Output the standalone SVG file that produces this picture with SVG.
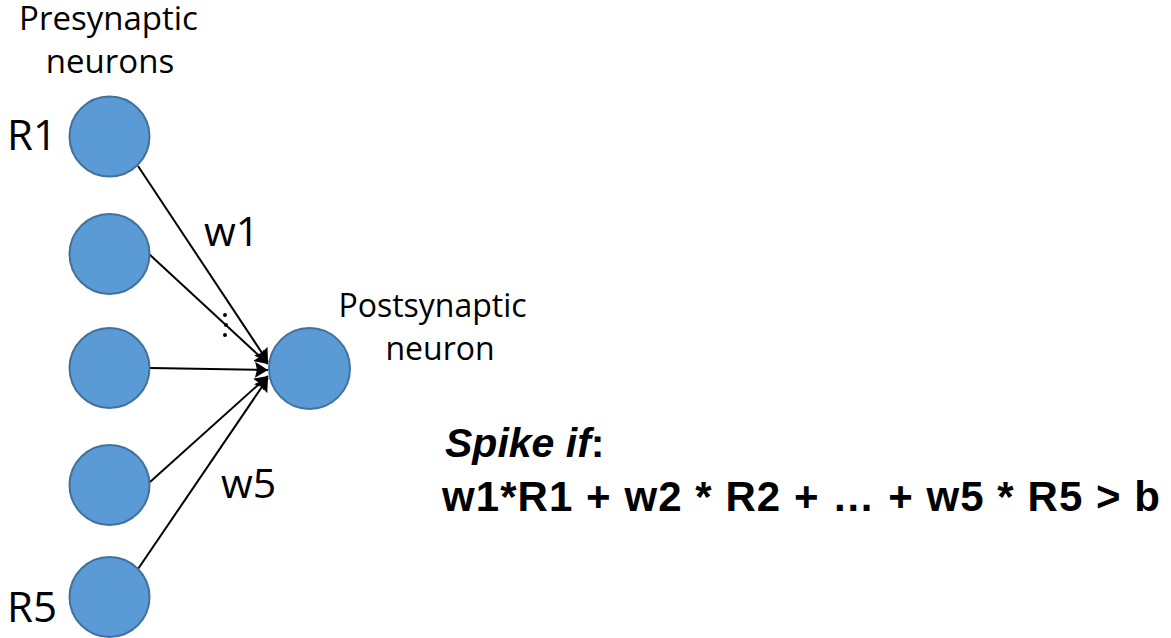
<svg xmlns="http://www.w3.org/2000/svg" width="1171" height="638" viewBox="0 0 1171 638">
<style>
.n{fill:#5B9BD5;stroke:#41719C;stroke-width:2}
.t{font-family:"Open Sans","DejaVu Sans",sans-serif;fill:#000}
.c{stroke:#000;stroke-width:2;fill:none}
.eq{font-family:"Liberation Sans",Arial,sans-serif;font-weight:bold;fill:#000}
</style>
<defs>
<marker id="ah" markerUnits="userSpaceOnUse" markerWidth="18" markerHeight="18" refX="13" refY="8" orient="auto">
<path d="M0,0 L13,8 L0,16 L2,8 z" fill="#000"/>
</marker>
</defs>
<rect width="1171" height="638" fill="#fff"/>
<g id="labels">
<text class="t" x="108.5" y="30" font-size="33" text-anchor="middle">Presynaptic</text>
<text class="t" x="110" y="73" font-size="33" text-anchor="middle">neurons</text>
</g>
<g id="connectors">
<line class="c" x1="138" y1="166" x2="268" y2="362" marker-end="url(#ah)"/>
<line class="c" x1="149" y1="254" x2="268" y2="364" marker-end="url(#ah)"/>
<line class="c" x1="150" y1="368" x2="268" y2="370" marker-end="url(#ah)"/>
<line class="c" x1="150" y1="482" x2="268" y2="376" marker-end="url(#ah)"/>
<line class="c" x1="138" y1="569" x2="268" y2="378" marker-end="url(#ah)"/>
<text class="t" x="204" y="246" font-size="41">w1</text>
<text class="t" x="221" y="498" font-size="41">w5</text>
<circle cx="225" cy="315" r="2" fill="#000"/>
<circle cx="226" cy="325" r="2" fill="#000"/>
<circle cx="225" cy="335" r="2" fill="#000"/>
</g>
<g id="R1">
<circle class="n" cx="109.5" cy="136.5" r="40"/>
<text class="t" x="7" y="150" font-size="42">R1</text>
</g>
<g id="R2"><circle class="n" cx="109.5" cy="254" r="40"/></g>
<g id="R3"><circle class="n" cx="109.5" cy="368" r="40"/></g>
<g id="R4"><circle class="n" cx="109.5" cy="485" r="40"/></g>
<g id="R5">
<circle class="n" cx="109.5" cy="597" r="40"/>
<text class="t" x="7" y="622" font-size="42">R5</text>
</g>
<g id="post">
<circle class="n" cx="309.5" cy="368.5" r="40.5"/>
<text class="t" x="432.5" y="317" font-size="32" text-anchor="middle">Postsynaptic</text>
<text class="t" x="440" y="360" font-size="32" text-anchor="middle">neuron</text>
</g>
<g id="rule">
<text class="eq" x="445" y="457" font-size="41"><tspan font-style="italic">Spike if</tspan>:</text>
<text class="eq" x="442" y="511" font-size="42" textLength="718" lengthAdjust="spacing">w1*R1 + w2 * R2 + … + w5 * R5 &gt; b</text>
</g>
</svg>
